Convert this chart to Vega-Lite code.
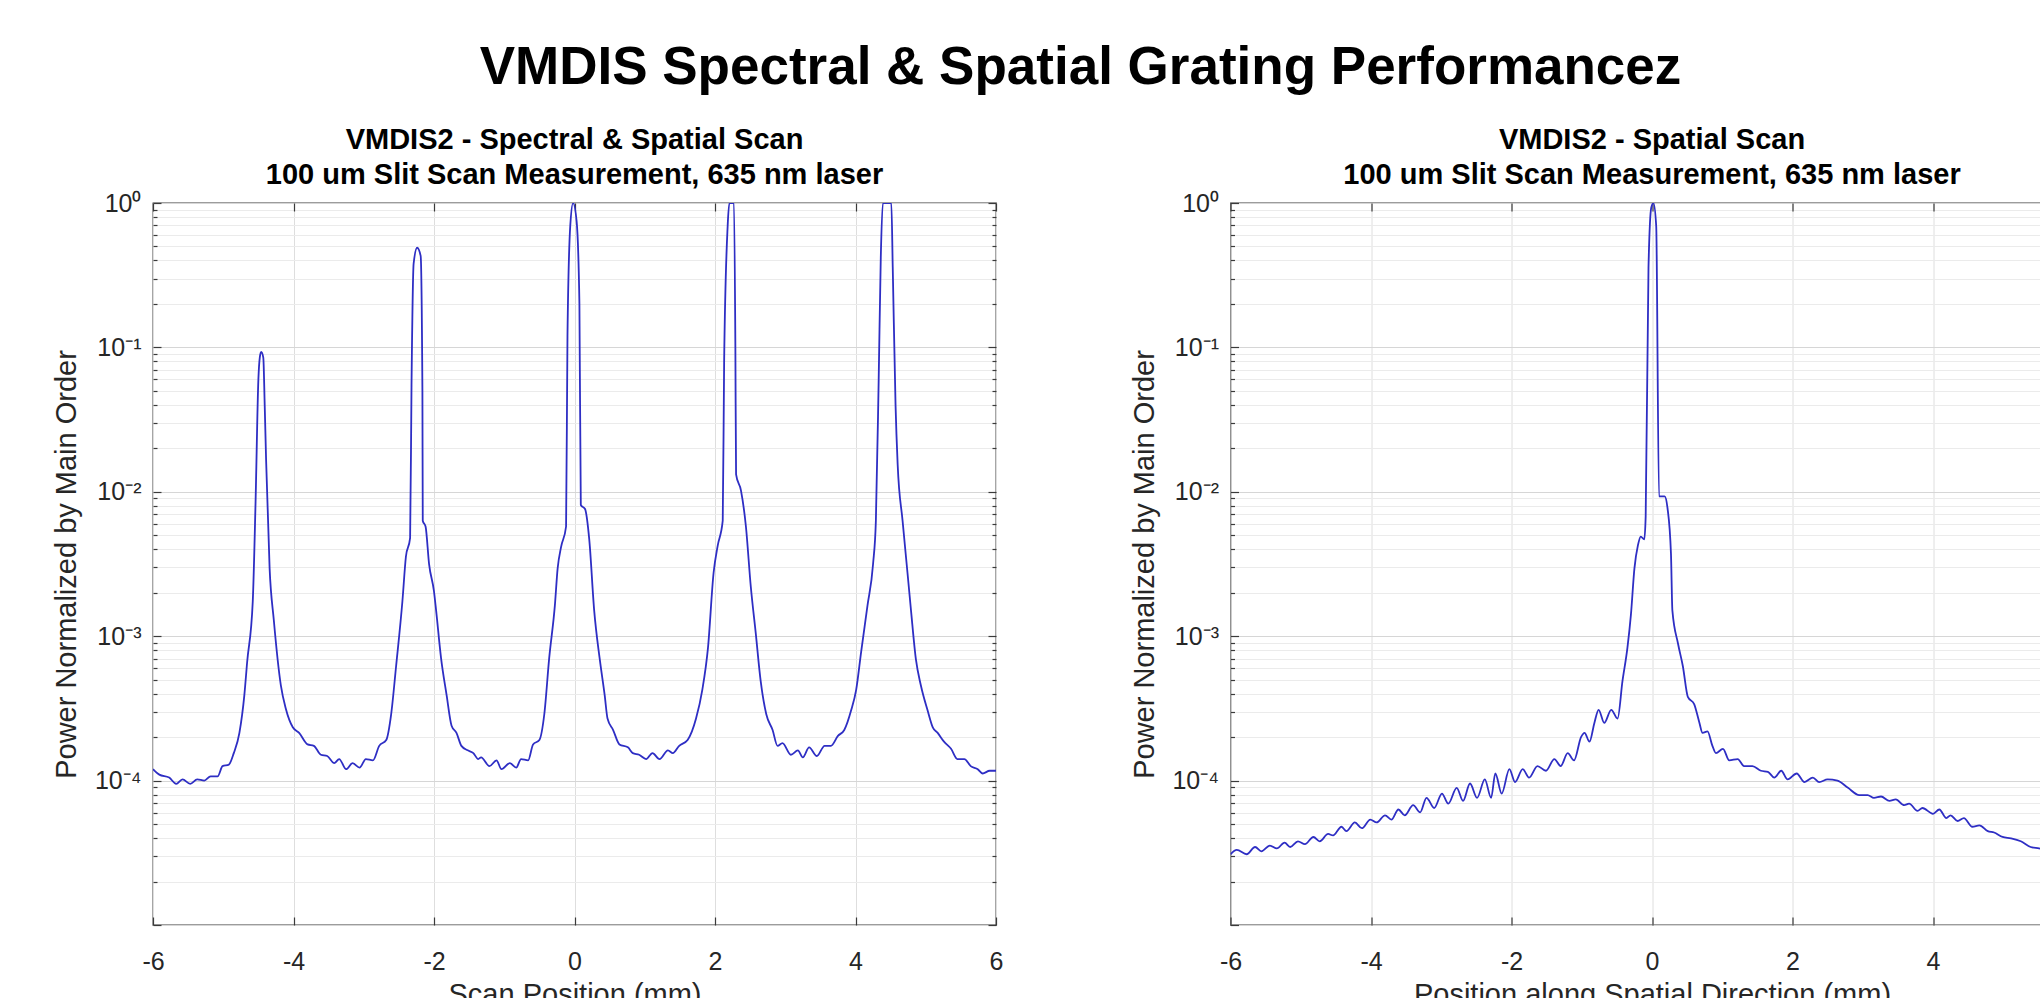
{
  "$schema": "https://vega.github.io/schema/vega-lite/v6.json",
  "padding": {"left": 51, "top": 42, "right": 0, "bottom": 0},
  "title": {"text": "VMDIS Spectral & Spatial Grating Performancez", "fontSize": 53, "fontWeight": "bold", "font": "Liberation Sans", "color": "#000000", "anchor": "middle", "offset": 30, "dx": 14},
  "bounds": "flush",
  "spacing": 234.5,
  "datasets": {
    "spec": [
      {"x": -6.00, "y": 1.20e-4}, {"x": -5.91, "y": 1.10e-4}, {"x": -5.77, "y": 1.05e-4}, {"x": -5.67, "y": 9.5e-5},
      {"x": -5.58, "y": 1.02e-4}, {"x": -5.47, "y": 9.5e-5}, {"x": -5.37, "y": 1.02e-4}, {"x": -5.27, "y": 1.00e-4},
      {"x": -5.18, "y": 1.07e-4}, {"x": -5.08, "y": 1.07e-4}, {"x": -5.01, "y": 1.26e-4}, {"x": -4.92, "y": 1.29e-4},
      {"x": -4.85, "y": 1.55e-4}, {"x": -4.77, "y": 2.14e-4}, {"x": -4.70, "y": 3.89e-4}, {"x": -4.66, "y": 6.6e-4},
      {"x": -4.58, "y": 1.74e-3}, {"x": -4.54, "y": 8.5e-3}, {"x": -4.50, "y": 0.06}, {"x": -4.48, "y": 0.085},
      {"x": -4.46, "y": 0.093}, {"x": -4.43, "y": 0.085}, {"x": -4.41, "y": 0.04}, {"x": -4.39, "y": 0.0166},
      {"x": -4.34, "y": 2.95e-3}, {"x": -4.28, "y": 1.29e-3}, {"x": -4.18, "y": 4.57e-4}, {"x": -4.11, "y": 3.16e-4},
      {"x": -4.01, "y": 2.34e-4}, {"x": -3.92, "y": 2.14e-4}, {"x": -3.80, "y": 1.78e-4}, {"x": -3.71, "y": 1.74e-4},
      {"x": -3.61, "y": 1.51e-4}, {"x": -3.52, "y": 1.48e-4}, {"x": -3.42, "y": 1.32e-4}, {"x": -3.35, "y": 1.41e-4},
      {"x": -3.25, "y": 1.20e-4}, {"x": -3.16, "y": 1.32e-4}, {"x": -3.06, "y": 1.23e-4}, {"x": -2.97, "y": 1.41e-4},
      {"x": -2.87, "y": 1.38e-4}, {"x": -2.78, "y": 1.74e-4}, {"x": -2.68, "y": 1.91e-4}, {"x": -2.61, "y": 2.88e-4},
      {"x": -2.54, "y": 6.17e-4}, {"x": -2.45, "y": 1.74e-3}, {"x": -2.40, "y": 3.55e-3}, {"x": -2.34, "y": 4.79e-3},
      {"x": -2.32, "y": 0.055}, {"x": -2.29, "y": 0.38}, {"x": -2.24, "y": 0.49}, {"x": -2.19, "y": 0.43},
      {"x": -2.165, "y": 0.05}, {"x": -2.16, "y": 6.31e-3}, {"x": -2.12, "y": 5.75e-3}, {"x": -2.07, "y": 3.16e-3},
      {"x": -2.00, "y": 2.04e-3}, {"x": -1.97, "y": 1.51e-3}, {"x": -1.90, "y": 7.08e-4}, {"x": -1.82, "y": 3.89e-4},
      {"x": -1.75, "y": 2.40e-4}, {"x": -1.68, "y": 2.14e-4}, {"x": -1.61, "y": 1.74e-4}, {"x": -1.52, "y": 1.62e-4},
      {"x": -1.44, "y": 1.55e-4}, {"x": -1.37, "y": 1.41e-4}, {"x": -1.33, "y": 1.45e-4}, {"x": -1.21, "y": 1.26e-4},
      {"x": -1.11, "y": 1.38e-4}, {"x": -1.04, "y": 1.20e-4}, {"x": -0.92, "y": 1.32e-4}, {"x": -0.83, "y": 1.23e-4},
      {"x": -0.76, "y": 1.41e-4}, {"x": -0.66, "y": 1.38e-4}, {"x": -0.59, "y": 1.78e-4}, {"x": -0.50, "y": 1.91e-4},
      {"x": -0.43, "y": 2.88e-4}, {"x": -0.36, "y": 7.08e-4}, {"x": -0.28, "y": 1.62e-3}, {"x": -0.24, "y": 2.95e-3},
      {"x": -0.19, "y": 4.17e-3}, {"x": -0.12, "y": 5.75e-3}, {"x": -0.10, "y": 0.12}, {"x": -0.06, "y": 0.70},
      {"x": -0.02, "y": 1.0}, {"x": 0.03, "y": 0.75}, {"x": 0.07, "y": 0.2}, {"x": 0.09, "y": 8.1e-3},
      {"x": 0.15, "y": 7.6e-3}, {"x": 0.21, "y": 4.68e-3}, {"x": 0.28, "y": 1.51e-3}, {"x": 0.36, "y": 6.9e-4},
      {"x": 0.43, "y": 3.89e-4}, {"x": 0.47, "y": 2.69e-4}, {"x": 0.55, "y": 2.24e-4}, {"x": 0.64, "y": 1.78e-4},
      {"x": 0.76, "y": 1.70e-4}, {"x": 0.83, "y": 1.55e-4}, {"x": 0.92, "y": 1.51e-4}, {"x": 1.02, "y": 1.41e-4},
      {"x": 1.11, "y": 1.55e-4}, {"x": 1.21, "y": 1.41e-4}, {"x": 1.33, "y": 1.62e-4}, {"x": 1.40, "y": 1.55e-4},
      {"x": 1.49, "y": 1.74e-4}, {"x": 1.61, "y": 1.91e-4}, {"x": 1.73, "y": 2.69e-4}, {"x": 1.82, "y": 4.27e-4},
      {"x": 1.90, "y": 8.3e-4}, {"x": 1.98, "y": 2.75e-3}, {"x": 2.04, "y": 4.27e-3}, {"x": 2.11, "y": 6.31e-3},
      {"x": 2.13, "y": 0.079}, {"x": 2.18, "y": 0.69}, {"x": 2.205, "y": 1.0}, {"x": 2.27, "y": 1.0},
      {"x": 2.29, "y": 0.1}, {"x": 2.30, "y": 0.0132}, {"x": 2.37, "y": 0.0102}, {"x": 2.44, "y": 5.75e-3},
      {"x": 2.51, "y": 2.19e-3}, {"x": 2.58, "y": 1.05e-3}, {"x": 2.65, "y": 4.9e-4}, {"x": 2.73, "y": 2.88e-4},
      {"x": 2.82, "y": 2.24e-4}, {"x": 2.89, "y": 1.74e-4}, {"x": 2.96, "y": 1.82e-4}, {"x": 3.08, "y": 1.51e-4},
      {"x": 3.18, "y": 1.62e-4}, {"x": 3.25, "y": 1.45e-4}, {"x": 3.34, "y": 1.70e-4}, {"x": 3.45, "y": 1.48e-4},
      {"x": 3.56, "y": 1.74e-4}, {"x": 3.65, "y": 1.74e-4}, {"x": 3.75, "y": 2.04e-4}, {"x": 3.84, "y": 2.24e-4},
      {"x": 3.94, "y": 3.09e-4}, {"x": 4.01, "y": 4.27e-4}, {"x": 4.08, "y": 7.76e-4}, {"x": 4.17, "y": 1.62e-3},
      {"x": 4.25, "y": 3.16e-3}, {"x": 4.29, "y": 6.31e-3}, {"x": 4.33, "y": 0.06}, {"x": 4.36, "y": 0.42},
      {"x": 4.39, "y": 1.0}, {"x": 4.51, "y": 1.0}, {"x": 4.53, "y": 0.36}, {"x": 4.57, "y": 0.04},
      {"x": 4.60, "y": 0.0155}, {"x": 4.67, "y": 6.31e-3}, {"x": 4.74, "y": 2.75e-3}, {"x": 4.79, "y": 1.51e-3},
      {"x": 4.86, "y": 6.9e-4}, {"x": 4.93, "y": 4.57e-4}, {"x": 5.03, "y": 3.02e-4}, {"x": 5.10, "y": 2.34e-4},
      {"x": 5.17, "y": 2.14e-4}, {"x": 5.26, "y": 1.86e-4}, {"x": 5.36, "y": 1.66e-4}, {"x": 5.45, "y": 1.41e-4},
      {"x": 5.55, "y": 1.41e-4}, {"x": 5.64, "y": 1.26e-4}, {"x": 5.74, "y": 1.20e-4}, {"x": 5.81, "y": 1.12e-4},
      {"x": 5.91, "y": 1.17e-4}, {"x": 6.00, "y": 1.17e-4}
    ],
    "spat": [
      {"x": -6.00, "y": 3.09e-5}, {"x": -5.91, "y": 3.31e-5}, {"x": -5.77, "y": 3.09e-5}, {"x": -5.65, "y": 3.47e-5},
      {"x": -5.56, "y": 3.24e-5}, {"x": -5.44, "y": 3.55e-5}, {"x": -5.34, "y": 3.39e-5}, {"x": -5.23, "y": 3.72e-5},
      {"x": -5.15, "y": 3.47e-5}, {"x": -5.04, "y": 3.80e-5}, {"x": -4.94, "y": 3.63e-5}, {"x": -4.82, "y": 4.07e-5},
      {"x": -4.73, "y": 3.80e-5}, {"x": -4.61, "y": 4.27e-5}, {"x": -4.54, "y": 4.17e-5}, {"x": -4.42, "y": 4.79e-5},
      {"x": -4.35, "y": 4.47e-5}, {"x": -4.23, "y": 5.13e-5}, {"x": -4.13, "y": 4.68e-5}, {"x": -4.01, "y": 5.37e-5},
      {"x": -3.92, "y": 5.13e-5}, {"x": -3.80, "y": 5.75e-5}, {"x": -3.71, "y": 5.37e-5}, {"x": -3.61, "y": 6.31e-5},
      {"x": -3.52, "y": 5.75e-5}, {"x": -3.40, "y": 6.76e-5}, {"x": -3.30, "y": 6.03e-5}, {"x": -3.21, "y": 7.59e-5},
      {"x": -3.10, "y": 6.46e-5}, {"x": -2.99, "y": 8.13e-5}, {"x": -2.90, "y": 6.92e-5}, {"x": -2.78, "y": 8.91e-5},
      {"x": -2.69, "y": 7.24e-5}, {"x": -2.59, "y": 9.55e-5}, {"x": -2.49, "y": 7.59e-5}, {"x": -2.38, "y": 1.02e-4},
      {"x": -2.29, "y": 7.59e-5}, {"x": -2.23, "y": 1.12e-4}, {"x": -2.14, "y": 8.13e-5}, {"x": -2.03, "y": 1.20e-4},
      {"x": -1.95, "y": 9.77e-5}, {"x": -1.84, "y": 1.20e-4}, {"x": -1.75, "y": 1.05e-4}, {"x": -1.63, "y": 1.26e-4},
      {"x": -1.51, "y": 1.17e-4}, {"x": -1.39, "y": 1.41e-4}, {"x": -1.30, "y": 1.26e-4}, {"x": -1.20, "y": 1.55e-4},
      {"x": -1.11, "y": 1.38e-4}, {"x": -1.01, "y": 2.0e-4}, {"x": -0.96, "y": 2.14e-4}, {"x": -0.89, "y": 1.86e-4},
      {"x": -0.82, "y": 2.51e-4}, {"x": -0.76, "y": 3.09e-4}, {"x": -0.68, "y": 2.51e-4}, {"x": -0.58, "y": 3.09e-4},
      {"x": -0.49, "y": 2.69e-4}, {"x": -0.42, "y": 4.9e-4}, {"x": -0.35, "y": 8.3e-4}, {"x": -0.30, "y": 1.41e-3},
      {"x": -0.25, "y": 2.95e-3}, {"x": -0.20, "y": 4.27e-3}, {"x": -0.16, "y": 4.9e-3}, {"x": -0.11, "y": 4.68e-3},
      {"x": -0.09, "y": 6.76e-3}, {"x": -0.05, "y": 0.355}, {"x": -0.01, "y": 0.93}, {"x": 0.02, "y": 1.0},
      {"x": 0.06, "y": 0.69}, {"x": 0.10, "y": 9.3e-3}, {"x": 0.18, "y": 9.3e-3}, {"x": 0.22, "y": 7.76e-3},
      {"x": 0.27, "y": 3.72e-3}, {"x": 0.29, "y": 1.51e-3}, {"x": 0.37, "y": 8.9e-4}, {"x": 0.44, "y": 6.17e-4},
      {"x": 0.51, "y": 3.80e-4}, {"x": 0.60, "y": 3.39e-4}, {"x": 0.67, "y": 2.57e-4}, {"x": 0.72, "y": 2.14e-4},
      {"x": 0.79, "y": 2.19e-4}, {"x": 0.86, "y": 1.74e-4}, {"x": 0.91, "y": 1.55e-4}, {"x": 1.01, "y": 1.66e-4},
      {"x": 1.10, "y": 1.38e-4}, {"x": 1.22, "y": 1.41e-4}, {"x": 1.31, "y": 1.26e-4}, {"x": 1.43, "y": 1.26e-4},
      {"x": 1.55, "y": 1.17e-4}, {"x": 1.65, "y": 1.15e-4}, {"x": 1.74, "y": 1.05e-4}, {"x": 1.84, "y": 1.17e-4},
      {"x": 1.93, "y": 1.02e-4}, {"x": 2.06, "y": 1.12e-4}, {"x": 2.17, "y": 9.77e-5}, {"x": 2.29, "y": 1.05e-4},
      {"x": 2.38, "y": 9.77e-5}, {"x": 2.50, "y": 1.02e-4}, {"x": 2.64, "y": 1.0e-4}, {"x": 2.79, "y": 8.91e-5},
      {"x": 2.95, "y": 7.94e-5}, {"x": 3.07, "y": 7.94e-5}, {"x": 3.16, "y": 7.59e-5}, {"x": 3.26, "y": 7.76e-5},
      {"x": 3.38, "y": 7.24e-5}, {"x": 3.47, "y": 7.41e-5}, {"x": 3.59, "y": 6.76e-5}, {"x": 3.66, "y": 6.92e-5},
      {"x": 3.78, "y": 6.17e-5}, {"x": 3.85, "y": 6.46e-5}, {"x": 4.00, "y": 5.89e-5}, {"x": 4.09, "y": 6.31e-5},
      {"x": 4.19, "y": 5.50e-5}, {"x": 4.25, "y": 5.75e-5}, {"x": 4.35, "y": 5.25e-5}, {"x": 4.44, "y": 5.50e-5},
      {"x": 4.56, "y": 4.79e-5}, {"x": 4.66, "y": 4.90e-5}, {"x": 4.78, "y": 4.47e-5}, {"x": 4.87, "y": 4.37e-5},
      {"x": 4.99, "y": 4.07e-5}, {"x": 5.11, "y": 3.98e-5}, {"x": 5.25, "y": 3.80e-5}, {"x": 5.39, "y": 3.47e-5},
      {"x": 5.51, "y": 3.39e-5}, {"x": 5.70, "y": 3.2e-5}, {"x": 6.00, "y": 2.9e-5}
    ]
  },
  "hconcat": [
    {
      "width": 843,
      "height": 722,
      "title": {"text": ["VMDIS2 -  Spectral & Spatial Scan", "100 um Slit Scan Measurement, 635 nm laser"], "fontSize": 29, "lineHeight": 35, "offset": 1, "anchor": "middle"},
      "data": {"name": "spec"},
      "layer": [
        {
          "mark": {"type": "line", "color": "#2e2ec4", "strokeWidth": 1.8, "clip": true, "interpolate": "monotone"},
          "encoding": {
            "x": {"field": "x", "type": "quantitative", "scale": {"domain": [-6, 6], "nice": false, "zero": false},
              "axis": {"orient": "bottom", "values": [-6, -4, -2, 0, 2, 4, 6], "labelExpr": "'' + datum.value", "labelFlush": false, "grid": true, "tickSize": -8, "labelPadding": 32, "title": "Scan Position (mm)", "titleX": 421.5, "titleY": 55, "titleBaseline": "top", "titleAlign": "center"}},
            "y": {"field": "y", "type": "quantitative", "scale": {"type": "log", "domain": [0.00001, 1], "nice": false},
              "axis": {"orient": "left", "values": [1, 0.9, 0.8, 0.7, 0.6, 0.5, 0.4, 0.3, 0.2, 0.1, 0.09, 0.08, 0.07, 0.06, 0.05, 0.04, 0.03, 0.02, 0.01, 0.009, 0.008, 0.007, 0.006, 0.005, 0.004, 0.003, 0.002, 0.001, 0.0009, 0.0008, 0.0007, 0.0006, 0.0005, 0.0004, 0.0003, 0.0002, 0.0001, 0.00009, 0.00008, 0.00007, 0.00006, 0.00005, 0.00004, 0.00003, 0.00002, 0.00001],
                "labelExpr": "abs(datum.value - 1) < 0.001 ? '10\u2070' : abs(datum.value / 0.1 - 1) < 0.001 ? '10\u207b\u00b9' : abs(datum.value / 0.01 - 1) < 0.001 ? '10\u207b\u00b2' : abs(datum.value / 0.001 - 1) < 0.001 ? '10\u207b\u00b3' : abs(datum.value / 0.0001 - 1) < 0.001 ? '10\u207b\u2074' : ''",
                "ticks": false, "labelPadding": 12, "labelOverlap": false, "grid": true,
                "gridColor": {"condition": {"test": "abs(log(datum.value) / LN10 - round(log(datum.value) / LN10)) < 0.001", "value": "#d6d6d6"}, "value": "#ebebeb"},
                "title": "Power Normalized by Main Order", "titleX": -77.5, "titleY": 361, "titleBaseline": "alphabetic", "titleAlign": "center", "titleAngle": 270}}
          }
        },
        {
          "mark": {"type": "line", "strokeOpacity": 0},
          "encoding": {
            "x": {"field": "x", "type": "quantitative", "axis": {"orient": "top", "values": [-6, -4, -2, 0, 2, 4, 6], "labels": false, "grid": false, "tickSize": -8, "title": null}},
            "y": {"field": "y", "type": "quantitative", "axis": {"orient": "right", "values": [1, 0.9, 0.8, 0.7, 0.6, 0.5, 0.4, 0.3, 0.2, 0.1, 0.09, 0.08, 0.07, 0.06, 0.05, 0.04, 0.03, 0.02, 0.01, 0.009, 0.008, 0.007, 0.006, 0.005, 0.004, 0.003, 0.002, 0.001, 0.0009, 0.0008, 0.0007, 0.0006, 0.0005, 0.0004, 0.0003, 0.0002, 0.0001, 0.00009, 0.00008, 0.00007, 0.00006, 0.00005, 0.00004, 0.00003, 0.00002, 0.00001], "labels": false, "grid": false, "title": null,
              "tickSize": {"condition": {"test": "abs(log(datum.value) / LN10 - round(log(datum.value) / LN10)) < 0.001", "value": -8}, "value": -4}}}
          }
        },
        {
          "mark": {"type": "line", "strokeOpacity": 0},
          "encoding": {
            "x": {"field": "x", "type": "quantitative", "axis": null},
            "y": {"field": "y", "type": "quantitative", "axis": {"orient": "left", "values": [1, 0.9, 0.8, 0.7, 0.6, 0.5, 0.4, 0.3, 0.2, 0.1, 0.09, 0.08, 0.07, 0.06, 0.05, 0.04, 0.03, 0.02, 0.01, 0.009, 0.008, 0.007, 0.006, 0.005, 0.004, 0.003, 0.002, 0.001, 0.0009, 0.0008, 0.0007, 0.0006, 0.0005, 0.0004, 0.0003, 0.0002, 0.0001, 0.00009, 0.00008, 0.00007, 0.00006, 0.00005, 0.00004, 0.00003, 0.00002, 0.00001], "labels": false, "grid": false, "title": null,
              "tickSize": {"condition": {"test": "abs(log(datum.value) / LN10 - round(log(datum.value) / LN10)) < 0.001", "value": -8}, "value": -4}}}
          }
        }
      ],
      "resolve": {"axis": {"x": "independent", "y": "independent"}}
    },
    {
      "width": 843,
      "height": 722,
      "title": {"text": ["VMDIS2 - Spatial Scan", "100 um Slit Scan Measurement, 635 nm laser"], "fontSize": 29, "lineHeight": 35, "offset": 1, "anchor": "middle"},
      "data": {"name": "spat"},
      "layer": [
        {
          "mark": {"type": "line", "color": "#2e2ec4", "strokeWidth": 1.8, "clip": true, "interpolate": "monotone"},
          "encoding": {
            "x": {"field": "x", "type": "quantitative", "scale": {"domain": [-6, 6], "nice": false, "zero": false},
              "axis": {"orient": "bottom", "values": [-6, -4, -2, 0, 2, 4, 6], "labelExpr": "'' + datum.value", "labelFlush": false, "grid": true, "tickSize": -8, "labelPadding": 32, "title": "Position along Spatial Direction (mm)", "titleX": 421.5, "titleY": 55, "titleBaseline": "top", "titleAlign": "center"}},
            "y": {"field": "y", "type": "quantitative", "scale": {"type": "log", "domain": [0.00001, 1], "nice": false},
              "axis": {"orient": "left", "values": [1, 0.9, 0.8, 0.7, 0.6, 0.5, 0.4, 0.3, 0.2, 0.1, 0.09, 0.08, 0.07, 0.06, 0.05, 0.04, 0.03, 0.02, 0.01, 0.009, 0.008, 0.007, 0.006, 0.005, 0.004, 0.003, 0.002, 0.001, 0.0009, 0.0008, 0.0007, 0.0006, 0.0005, 0.0004, 0.0003, 0.0002, 0.0001, 0.00009, 0.00008, 0.00007, 0.00006, 0.00005, 0.00004, 0.00003, 0.00002, 0.00001],
                "labelExpr": "abs(datum.value - 1) < 0.001 ? '10\u2070' : abs(datum.value / 0.1 - 1) < 0.001 ? '10\u207b\u00b9' : abs(datum.value / 0.01 - 1) < 0.001 ? '10\u207b\u00b2' : abs(datum.value / 0.001 - 1) < 0.001 ? '10\u207b\u00b3' : abs(datum.value / 0.0001 - 1) < 0.001 ? '10\u207b\u2074' : ''",
                "ticks": false, "labelPadding": 12, "labelOverlap": false, "grid": true,
                "gridColor": {"condition": {"test": "abs(log(datum.value) / LN10 - round(log(datum.value) / LN10)) < 0.001", "value": "#d6d6d6"}, "value": "#ebebeb"},
                "title": "Power Normalized by Main Order", "titleX": -77.5, "titleY": 361, "titleBaseline": "alphabetic", "titleAlign": "center", "titleAngle": 270}}
          }
        },
        {
          "mark": {"type": "line", "strokeOpacity": 0},
          "encoding": {
            "x": {"field": "x", "type": "quantitative", "axis": {"orient": "top", "values": [-6, -4, -2, 0, 2, 4, 6], "labels": false, "grid": false, "tickSize": -8, "title": null}},
            "y": {"field": "y", "type": "quantitative", "axis": {"orient": "right", "values": [1, 0.9, 0.8, 0.7, 0.6, 0.5, 0.4, 0.3, 0.2, 0.1, 0.09, 0.08, 0.07, 0.06, 0.05, 0.04, 0.03, 0.02, 0.01, 0.009, 0.008, 0.007, 0.006, 0.005, 0.004, 0.003, 0.002, 0.001, 0.0009, 0.0008, 0.0007, 0.0006, 0.0005, 0.0004, 0.0003, 0.0002, 0.0001, 0.00009, 0.00008, 0.00007, 0.00006, 0.00005, 0.00004, 0.00003, 0.00002, 0.00001], "labels": false, "grid": false, "title": null,
              "tickSize": {"condition": {"test": "abs(log(datum.value) / LN10 - round(log(datum.value) / LN10)) < 0.001", "value": -8}, "value": -4}}}
          }
        },
        {
          "mark": {"type": "line", "strokeOpacity": 0},
          "encoding": {
            "x": {"field": "x", "type": "quantitative", "axis": null},
            "y": {"field": "y", "type": "quantitative", "axis": {"orient": "left", "values": [1, 0.9, 0.8, 0.7, 0.6, 0.5, 0.4, 0.3, 0.2, 0.1, 0.09, 0.08, 0.07, 0.06, 0.05, 0.04, 0.03, 0.02, 0.01, 0.009, 0.008, 0.007, 0.006, 0.005, 0.004, 0.003, 0.002, 0.001, 0.0009, 0.0008, 0.0007, 0.0006, 0.0005, 0.0004, 0.0003, 0.0002, 0.0001, 0.00009, 0.00008, 0.00007, 0.00006, 0.00005, 0.00004, 0.00003, 0.00002, 0.00001], "labels": false, "grid": false, "title": null,
              "tickSize": {"condition": {"test": "abs(log(datum.value) / LN10 - round(log(datum.value) / LN10)) < 0.001", "value": -8}, "value": -4}}}
          }
        }
      ],
      "resolve": {"axis": {"x": "independent", "y": "independent"}}
    }
  ],
  "config": {
    "font": "Liberation Sans",
    "view": {"stroke": "#3a3a3a", "strokeWidth": 1.3},
    "axis": {"labelFont": "Liberation Sans", "labelFontSize": 25, "labelColor": "#262626", "titleFont": "Liberation Sans", "titleFontSize": 29, "titleFontWeight": "normal", "titleColor": "#262626", "domain": false, "tickColor": "#3a3a3a", "tickWidth": 1.2, "gridColor": "#dedede", "gridWidth": 1, "gridOpacity": 1},
    "title": {"font": "Liberation Sans", "fontWeight": "bold", "color": "#000000"}
  }
}
